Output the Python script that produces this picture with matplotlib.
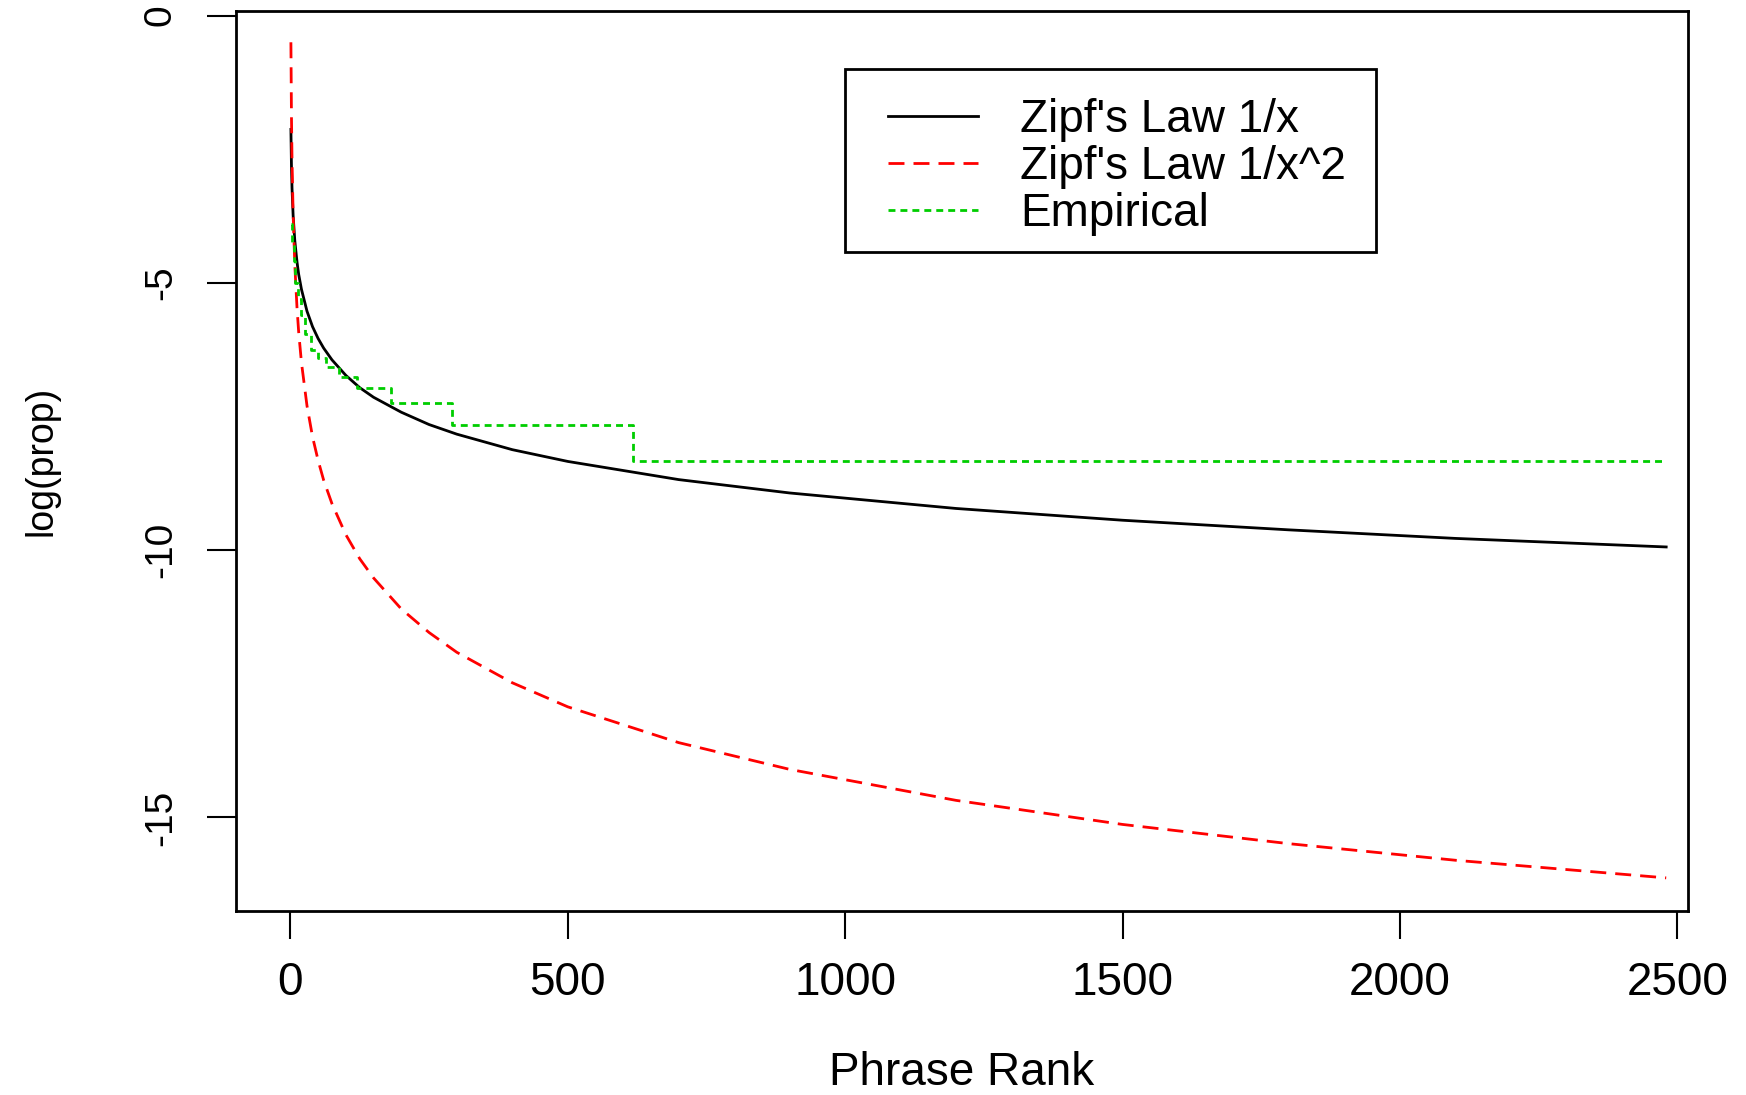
import matplotlib
matplotlib.use("Agg")
import matplotlib.pyplot as plt
from matplotlib.patches import Rectangle

plt.rcParams['font.family'] = ['Liberation Sans', 'DejaVu Sans']
plt.rcParams['lines.scale_dashes'] = False

# Zipf 1/x curve
rank_a = [1, 2, 3, 5, 8, 12, 15, 20, 30, 40, 50, 60, 75, 100, 125, 150, 200,
          250, 300, 400, 500, 700, 900, 1200, 1500, 1800, 2100, 2480]
zipf1 = [-2.13, -2.82, -3.23, -3.74, -4.21, -4.61, -4.84, -5.12, -5.53, -5.82,
         -6.04, -6.22, -6.44, -6.73, -6.96, -7.14, -7.42, -7.65, -7.83, -8.12,
         -8.34, -8.68, -8.93, -9.22, -9.44, -9.62, -9.78, -9.94]

# Zipf 1/x^2 curve
zipf2 = [-0.50, -1.89, -2.70, -3.72, -4.66, -5.47, -5.92, -6.49, -7.30, -7.88,
         -8.32, -8.69, -9.13, -9.71, -10.16, -10.52, -11.10, -11.54, -11.91,
         -12.48, -12.93, -13.60, -14.10, -14.68, -15.13, -15.49, -15.80, -16.13]

# empirical step line
rank_e = [1, 3, 6, 9, 13, 20, 27, 38, 50, 65, 88, 120, 182, 291, 618, 2475]
empirical = [-3.89, -4.25, -4.6, -5.0, -5.3, -5.6, -5.95, -6.26, -6.4, -6.57,
             -6.76, -6.97, -7.24, -7.65, -8.33, -8.33]

fig = plt.figure(figsize=(17.46, 10.95), dpi=100, facecolor='white')
ax = fig.add_axes([0.135, 0.168, 0.832, 0.822])

ax.plot(rank_a, zipf1, color='black', lw=2, label="Zipf's Law 1/x")
ax.plot(rank_a, zipf2, color='#ff0000', lw=2, dashes=(11.5, 6.5),
        label="Zipf's Law 1/x^2")
ax.plot(rank_e, empirical, color='#00cd00', lw=2, dashes=(5, 3.6),
        drawstyle='steps-post', label='Empirical')

ax.set_xlim(-98.5, 2520)
ax.set_ylim(-16.75, 0.086)
ax.set_xticks([0, 500, 1000, 1500, 2000, 2500])
ax.set_yticks([0, -5, -10, -15])
ax.set_yticklabels(['0', '-5', '-10', '-15'], rotation=90, va='center')

for s in ax.spines.values():
    s.set_linewidth(2)
ax.tick_params(axis='x', length=20, width=1.5, pad=16, labelsize=33)
ax.tick_params(axis='y', length=21, width=1.5, pad=20, labelsize=28)

ax.set_xlabel('Phrase Rank', fontsize=33)
ax.xaxis.set_label_coords(0.5, -0.18)
ax.xaxis.label.set_va('center')
ax.set_ylabel('log(prop)', fontsize=27)
ax.yaxis.set_label_coords(-0.134, 0.5)
ax.yaxis.label.set_va('center')

# legend box drawn separately, like R's legend()
ax.add_patch(Rectangle((0.4194, 0.7322), 0.3656, 0.2034, transform=ax.transAxes,
                       facecolor='white', edgecolor='black', lw=2, zorder=4))
leg = ax.legend(loc='center left', bbox_to_anchor=(0.4487, 0.8266), fontsize=33,
                handlelength=1.97, handletextpad=0.93, labelspacing=0.06,
                borderpad=0, borderaxespad=0, frameon=False)
leg.set_zorder(5)

fig.savefig('out.png', dpi=100)
